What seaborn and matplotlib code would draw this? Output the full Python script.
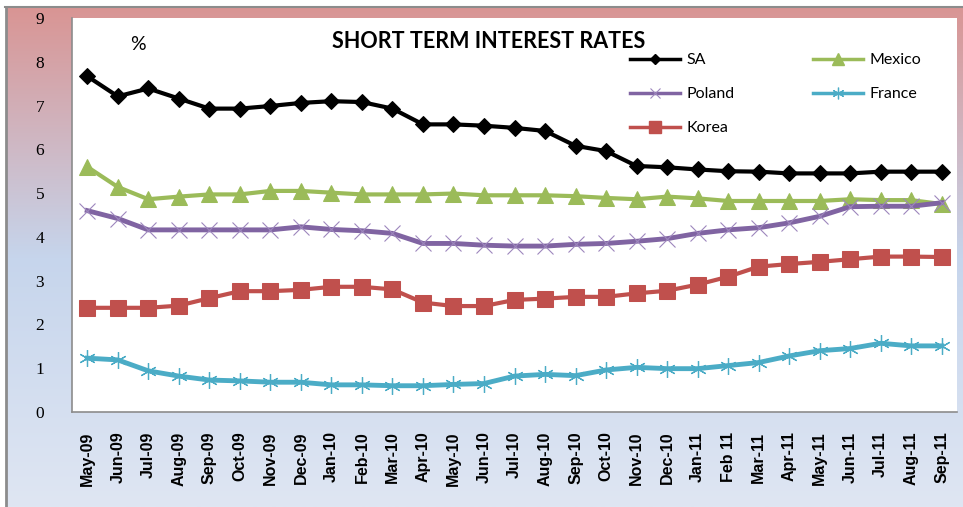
import numpy as np
import pandas as pd
import matplotlib
matplotlib.use("Agg")
import matplotlib.pyplot as plt
import seaborn as sns
from matplotlib.colors import LinearSegmentedColormap
from matplotlib.lines import Line2D

# =====================================================
# DATA
# =====================================================

months = [
    "May-09", "Jun-09", "Jul-09", "Aug-09", "Sep-09", "Oct-09", "Nov-09", "Dec-09",
    "Jan-10", "Feb-10", "Mar-10", "Apr-10", "May-10", "Jun-10", "Jul-10", "Aug-10",
    "Sep-10", "Oct-10", "Nov-10", "Dec-10", "Jan-11", "Feb 11", "Mar-11", "Apr-11",
    "May-11", "Jun-11", "Jul-11", "Aug-11", "Sep-11"
]

sa = [7.67, 7.21, 7.39, 7.16, 6.93, 6.93, 6.99, 7.06, 7.10, 7.08, 6.93, 6.57, 6.57,
      6.54, 6.49, 6.42, 6.08, 5.96, 5.62, 5.59, 5.54, 5.50, 5.49, 5.45, 5.45, 5.45,
      5.49, 5.49, 5.49]

mexico = [5.60, 5.14, 4.86, 4.92, 4.97, 4.97, 5.05, 5.05, 5.01, 4.97, 4.97, 4.97, 4.99,
          4.95, 4.95, 4.95, 4.93, 4.89, 4.86, 4.92, 4.88, 4.82, 4.82, 4.82, 4.82, 4.86,
          4.84, 4.84, 4.75]

poland = [4.60, 4.42, 4.16, 4.16, 4.16, 4.16, 4.16, 4.23, 4.17, 4.14, 4.08, 3.85, 3.85,
          3.81, 3.79, 3.79, 3.83, 3.85, 3.90, 3.96, 4.08, 4.16, 4.21, 4.32, 4.47, 4.69,
          4.70, 4.70, 4.78]

france = [1.23, 1.19, 0.94, 0.82, 0.73, 0.71, 0.68, 0.68, 0.62, 0.62, 0.60, 0.60, 0.63,
          0.65, 0.82, 0.86, 0.83, 0.96, 1.02, 0.99, 0.99, 1.06, 1.13, 1.28, 1.40, 1.45,
          1.57, 1.51, 1.51]

korea = [2.38, 2.38, 2.38, 2.43, 2.60, 2.76, 2.76, 2.79, 2.86, 2.86, 2.80, 2.50, 2.42,
         2.42, 2.56, 2.59, 2.63, 2.63, 2.71, 2.77, 2.91, 3.09, 3.32, 3.38, 3.43, 3.49,
         3.55, 3.55, 3.54]

idx = np.arange(len(months))

# =====================================================
# FIGURE + GRADIENT BACKGROUND
# =====================================================

W, H = 963, 507
fig = plt.figure(figsize=(W / 100, H / 100), dpi=100)
fig.patch.set_facecolor("white")

bg = fig.add_axes([7 / W, 0, 1 - 7 / W, 1 - 8 / H], zorder=0)
grad_cmap = LinearSegmentedColormap.from_list(
    "bg", [(0.0, "#d99594"), (0.5, "#c6d5ec"), (1.0, "#dfe6f3")]
)
bg.imshow(np.linspace(0, 1, 256).reshape(-1, 1), aspect="auto", cmap=grad_cmap,
          extent=[0, 1, 0, 1])
bg.set_axis_off()

# gray frame lines (top / left)
fig.add_artist(Line2D([5 / W, 1], [1 - 7 / H, 1 - 7 / H], color="#8c8c8c", lw=1.5))
fig.add_artist(Line2D([5.5 / W, 5.5 / W], [0, 1 - 7 / H], color="#8c8c8c", lw=2))

ax = fig.add_axes([72 / W, 1 - 412 / H, (957 - 72) / W, (412 - 18) / H], zorder=1)
ax.set_facecolor("white")

# =====================================================
# LINES
# =====================================================

styles = {
    "SA": dict(color="black", lw=3, marker="D", markersize=8, markeredgecolor="black"),
    "Mexico": dict(color="#9bbb59", lw=3, marker="^", markersize=12,
                   markeredgecolor="#9bbb59"),
    "Poland": dict(color="#8064a2", lw=3.5, marker="x", markersize=11,
                   markeredgewidth=0.8, markeredgecolor="#9d86bd"),
    "France": dict(color="#4bacc6", lw=3.5, marker=(6, 2, 0), markersize=12,
                   markeredgewidth=0.9, markeredgecolor="#4bacc6"),
    "Korea": dict(color="#c0504d", lw=3, marker="s", markersize=12,
                  markeredgecolor="#c0504d"),
}
series = {"SA": sa, "Mexico": mexico, "Poland": poland, "France": france, "Korea": korea}

for name, vals in series.items():
    sns.lineplot(x=idx, y=vals, ax=ax, legend=False, **styles[name])

# =====================================================
# AXES STYLE
# =====================================================

ax.set_xlim(-0.5, len(months) - 0.5)
ax.set_ylim(0, 9)
ax.set_xticks(idx)
ax.set_xticklabels(months, rotation=90, fontsize=11.5, fontweight="bold",
                   family="Liberation Sans")
ax.set_yticks(range(0, 10))
ax.set_yticklabels([str(v) for v in range(0, 10)], fontsize=12.5,
                   family="Liberation Serif")
ax.tick_params(axis="y", length=0, pad=20)
ax.tick_params(axis="x", length=0, pad=14)
for s in ["top", "right"]:
    ax.spines[s].set_visible(False)
for s in ["left", "bottom"]:
    ax.spines[s].set_color("#8c8c8c")
    ax.spines[s].set_linewidth(1.2)
ax.set_xlabel("")
ax.set_ylabel("")

fig.text(489 / W, 1 - 42 / H, "SHORT TERM INTEREST RATES", ha="center", va="center",
         fontsize=15.5, fontweight="bold", family="Lato")
fig.text(138 / W, 1 - 44 / H, "%", ha="center", va="center", fontsize=14, family="Lato")

# legend: small handles, row-major order SA/Mexico, Poland/France, Korea
leg_names = ["SA", "Poland", "Korea", "Mexico", "France"]
leg_handles = []
for name in leg_names:
    st = dict(styles[name])
    st["lw"] = 2.5
    st["markersize"] = st["markersize"] * 0.7
    leg_handles.append(Line2D([], [], **st))
ax.legend(leg_handles, leg_names, ncol=2,
          loc="upper left", bbox_to_anchor=((630 - 72) / 885, (412 - 53) / 394),
          frameon=False, handlelength=3.1, handletextpad=0.45, columnspacing=4.9,
          labelspacing=1.25, borderaxespad=0, borderpad=0,
          prop={"family": "Lato", "size": 11.5})

fig.savefig("out.png", dpi=100)
